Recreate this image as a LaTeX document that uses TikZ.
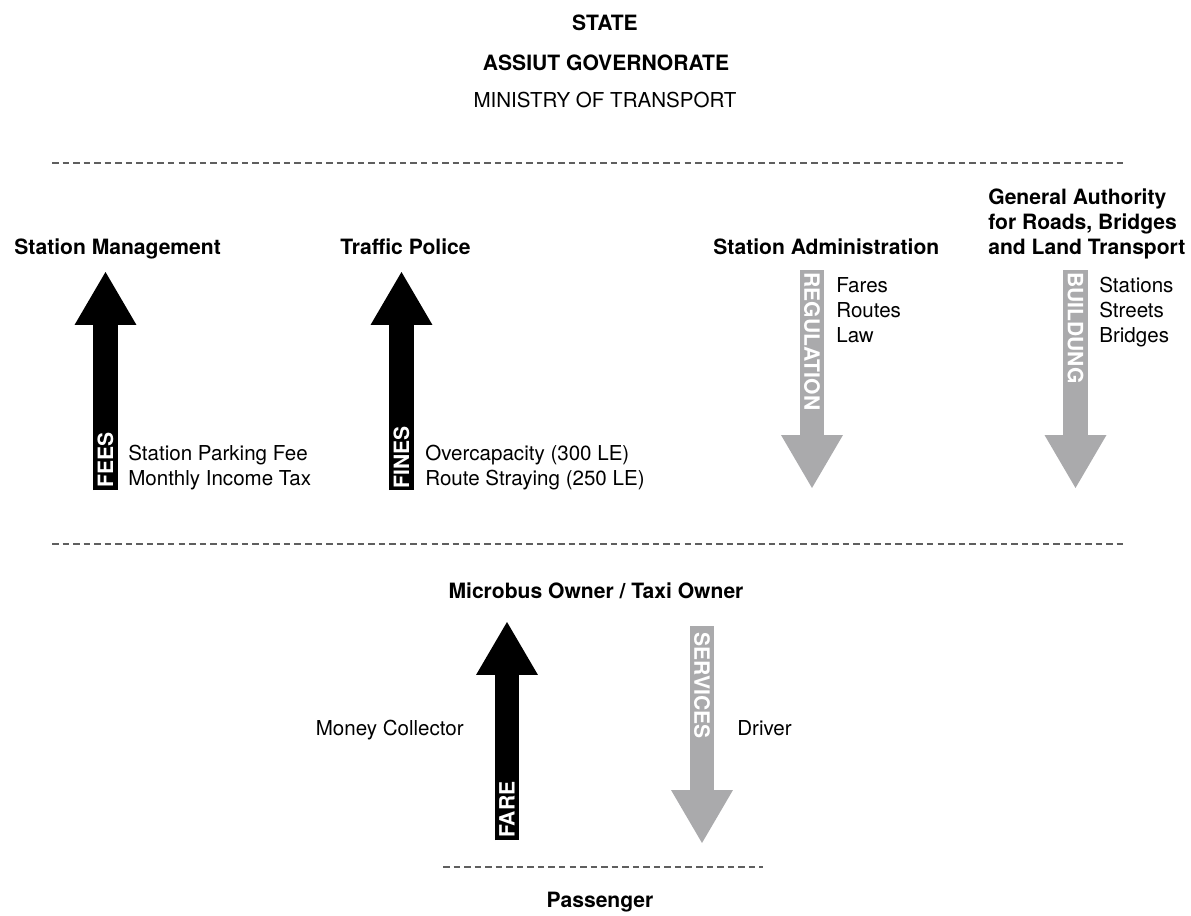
\documentclass[tikz,border=0pt]{standalone}
\usepackage{fontspec}
\setmainfont{TeX Gyre Heros}
\usepackage{tikz}
\usetikzlibrary{arrows.meta}
\definecolor{servgray}{RGB}{170,170,172}
\definecolor{dashgray}{RGB}{95,95,95}
\tikzset{
  heading/.style={
    font=\fontsize{12}{14.2}\selectfont\bfseries,
    inner sep=0pt,
    align=left
  },
  itemlist/.style={
    font=\fontsize{11.7}{14.2}\selectfont,
    inner sep=0pt,
    align=left
  },
  divider/.style={
    draw=dashgray,
    line width=0.7pt,
    dash pattern=on 3.7pt off 2.3pt
  },
  payflow/.style={
    color=black,
    line width=0.49cm,
    -{Triangle[length=1.06cm,width=1.24cm,line width=0pt]}
  },
  serveflow/.style={
    payflow,
    color=servgray
  },
  tag/.style={
    text=white,
    font=\fontsize{12}{14}\selectfont\bfseries,
    inner sep=0pt
  }
}

\begin{document}
\begin{tikzpicture}[x=0.02cm, y=-0.02cm]
  \useasboundingbox (0,0) rectangle (1191,916);

  % state level
  \node[heading, anchor=base] (state) at (605,30.5) {STATE};
  \node[heading, anchor=base] (gov) at (606,70.5) {ASSIUT GOVERNORATE};
  \node[itemlist, anchor=base] (ministry) at (605,107) {MINISTRY OF TRANSPORT};
  \draw[divider] (52,163) -- (1126,163);

  % authorities
  \node[heading, anchor=base west] (mgmt) at (14,254.5) {Station Management};
  \node[heading, anchor=base west] (police) at (340,254.5) {Traffic Police};
  \node[heading, anchor=base west] (admin) at (713,254.5) {Station Administration};
  \node[heading, anchor=base west] (authority) at (988,254.5)
    {General Authority\\for Roads, Bridges\\and Land Transport};

  \coordinate (fees-tail) at (105.5,490);
  \coordinate (fees-tip) at (105.5,272);
  \coordinate (fines-tail) at (401.5,490);
  \coordinate (fines-tip) at (401.5,272);
  \coordinate (reg-tail) at (812,270);
  \coordinate (reg-tip) at (812,488);
  \coordinate (build-tail) at (1075.5,270);
  \coordinate (build-tip) at (1075.5,488);
  \draw[payflow] (fees-tail) -- (fees-tip);
  \draw[payflow] (fines-tail) -- (fines-tip);
  \draw[serveflow] (reg-tail) -- (reg-tip);
  \draw[serveflow] (build-tail) -- (build-tip);

  \node[tag, rotate=90, anchor=west] (fees) at (105.5,488) {FEES};
  \node[tag, rotate=90, anchor=west] (fines) at (401.5,489) {FINES};
  \node[tag, rotate=-90, anchor=west] (regulation) at (812,272) {REGULATION};
  \node[tag, rotate=-90, anchor=west] (building) at (1075.5,272) {BUILDUNG};

  \node[itemlist, anchor=base west] (feelist) at (128,485)
    {Station Parking Fee\\Monthly Income Tax};
  \node[itemlist, anchor=base west] (finelist) at (425,485)
    {Overcapacity (300 LE)\\Route Straying (250 LE)};
  \node[itemlist, anchor=base west] (reglist) at (836,342)
    {Fares\\Routes\\Law};
  \node[itemlist, anchor=base west] (buildlist) at (1099,342)
    {Stations\\Streets\\Bridges};

  \draw[divider] (52,544) -- (1126,544);

  % owner and passenger
  \node[heading, anchor=base] (owner) at (596,598.5) {Microbus Owner / Taxi Owner};

  \coordinate (fare-tail) at (507,840);
  \coordinate (fare-tip) at (507,622);
  \coordinate (serv-tail) at (702,626);
  \coordinate (serv-tip) at (702,843);
  \draw[payflow] (fare-tail) -- (fare-tip);
  \draw[serveflow] (serv-tail) -- (serv-tip);

  \node[tag, rotate=90, anchor=west] (fare) at (507,838) {FARE};
  \node[tag, rotate=-90, anchor=west] (services) at (702,632) {SERVICES};

  \node[itemlist, anchor=base east] (collector) at (464,735) {Money Collector};
  \node[itemlist, anchor=base west] (driver) at (737,735) {Driver};

  \draw[divider] (443,867) -- (763,867);
  \node[heading, anchor=base] (passenger) at (600,907) {Passenger};
\end{tikzpicture}
\end{document}
